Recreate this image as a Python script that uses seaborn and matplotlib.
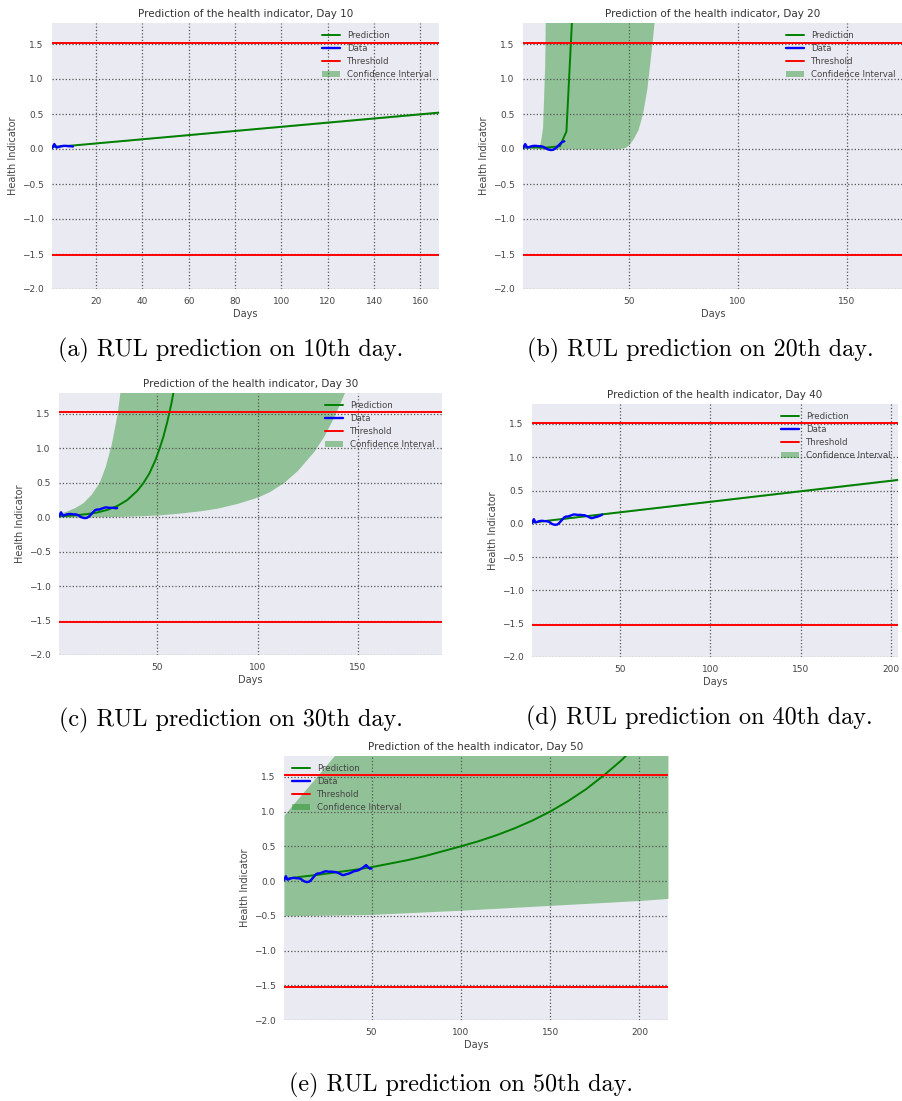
import matplotlib
matplotlib.use("Agg")
import matplotlib.pyplot as plt
import seaborn as sns
from matplotlib.lines import Line2D
from matplotlib.patches import Patch

# Observed health indicator, one value per day (days 1..50)
data_days = list(range(1, 51))
data_values = [0.01, 0.07, 0.02, 0.03, 0.04, 0.045, 0.045, 0.04, 0.04, 0.035,
               0.02, 0.0, -0.01, -0.015, -0.01, 0.01, 0.04, 0.07, 0.10, 0.11,
               0.11, 0.12, 0.13, 0.14, 0.14, 0.135, 0.135, 0.135, 0.13, 0.13,
               0.12, 0.11, 0.095, 0.085, 0.09, 0.10, 0.105, 0.115, 0.125, 0.14,
               0.145, 0.15, 0.16, 0.175, 0.19, 0.21, 0.23, 0.20, 0.18, 0.18]

threshold = 1.52

# Day 10 forecast
pred10_days = [1, 10, 168]
pred10_vals = [0.03, 0.05, 0.52]
ci10_days = [1, 10, 168]
ci10_low = [0.025, 0.045, 0.51]
ci10_high = [0.035, 0.055, 0.53]

# Day 20 forecast
pred20_days = [1, 6, 12, 18, 21, 24]
pred20_vals = [0.02, 0.02, 0.02, 0.04, 0.25, 2.1]
ci20_days = [8, 9, 10, 11, 12, 20, 30, 40, 45, 48, 50, 52, 54, 56, 58, 60, 62]
ci20_low = [0.0, 0.0, 0.0, 0.0, 0.0, 0.0, 0.0, 0.0, 0.005, 0.02, 0.07, 0.16,
            0.28, 0.5, 0.85, 1.4, 2.0]
ci20_high = [0.0, 0.1, 0.3, 1.2, 4.0, 10, 10, 10, 10, 10, 10, 10, 10, 10, 10, 10, 10]

# Day 30 forecast
pred30_days = [1, 5, 10, 15, 20, 25, 30, 35, 40, 43, 46, 49, 51, 53, 55, 57, 59, 61]
pred30_vals = [0.013, 0.018, 0.028, 0.044, 0.067, 0.104, 0.16, 0.247, 0.38, 0.49,
               0.63, 0.82, 0.98, 1.16, 1.38, 1.64, 1.95, 2.3]
ci30_days = [1, 5, 9, 13, 17, 21, 24, 27, 30, 32, 35, 50, 60, 71, 80, 90, 100,
             106, 113, 120, 128, 133, 138, 143, 150]
ci30_low = [0.0, 0.0, 0.0, 0.0, 0.003, 0.005, 0.007, 0.008, 0.01, 0.011, 0.013,
            0.03, 0.055, 0.09, 0.13, 0.2, 0.29, 0.37, 0.5, 0.68, 0.95, 1.17,
            1.45, 1.78, 2.3]
ci30_high = [0.05, 0.09, 0.14, 0.21, 0.33, 0.5, 0.73, 1.05, 1.5, 1.95, 2.8, 10,
             10, 10, 10, 10, 10, 10, 10, 10, 10, 10, 10, 10, 10]

# Day 40 forecast
pred40_days = [1, 204]
pred40_vals = [0.02, 0.66]
ci40_days = [1, 204]
ci40_low = [0.015, 0.65]
ci40_high = [0.025, 0.67]

# Day 50 forecast
pred50_days = [1, 10, 20, 30, 40, 50, 60, 70, 80, 90, 100, 110, 120, 130, 140,
               150, 160, 170, 180, 190, 200, 216]
pred50_vals = [0.03, 0.06, 0.09, 0.125, 0.16, 0.20, 0.25, 0.30, 0.36, 0.43, 0.50,
               0.574, 0.66, 0.758, 0.87, 1.0, 1.15, 1.32, 1.52, 1.74, 2.0, 2.5]
ci50_days = [1, 30, 50, 100, 150, 200, 216]
ci50_low = [-0.50, -0.49, -0.48, -0.42, -0.35, -0.28, -0.25]
ci50_high = [0.95, 1.83, 2.5, 4.0, 5.5, 7.0, 7.5]

panels = [
    dict(day=10, pred=(pred10_days, pred10_vals), ci=(ci10_days, ci10_low, ci10_high),
         xlim=(1, 168), xticks=[20, 40, 60, 80, 100, 120, 140, 160],
         rect=(52, 23, 439, 289), loc="upper right",
         caption="(a) RUL prediction on 10th day.", cap_xy=(231, 350)),
    dict(day=20, pred=(pred20_days, pred20_vals), ci=(ci20_days, ci20_low, ci20_high),
         xlim=(1, 176), xticks=[50, 100, 150],
         rect=(523, 23, 903, 289), loc="upper right",
         caption="(b) RUL prediction on 20th day.", cap_xy=(700, 350)),
    dict(day=30, pred=(pred30_days, pred30_vals), ci=(ci30_days, ci30_low, ci30_high),
         xlim=(1, 192), xticks=[50, 100, 150],
         rect=(59, 393, 442, 655), loc="upper right",
         caption="(c) RUL prediction on 30th day.", cap_xy=(231, 720)),
    dict(day=40, pred=(pred40_days, pred40_vals), ci=(ci40_days, ci40_low, ci40_high),
         xlim=(1, 204), xticks=[50, 100, 150, 200],
         rect=(532, 404, 898, 657), loc="upper right",
         caption="(d) RUL prediction on 40th day.", cap_xy=(699, 718)),
    dict(day=50, pred=(pred50_days, pred50_vals), ci=(ci50_days, ci50_low, ci50_high),
         xlim=(1, 216), xticks=[50, 100, 150, 200],
         rect=(284, 756, 668, 1020), loc="upper left",
         caption="(e) RUL prediction on 50th day.", cap_xy=(461, 1085)),
]

sns.set_theme(style="darkgrid")
plt.rcParams["font.family"] = ["DejaVu Sans"]

W, H = 903, 1101
fig = plt.figure(figsize=(W / 100, H / 100), dpi=100)
fig.patch.set_facecolor("white")

GREEN, BLUE, RED = "#008000", "#0000ff", "#ff0000"
CI_ALPHA = 0.38
TXT = "#444444"

for p in panels:
    l, t, r, b = p["rect"]
    ax = fig.add_axes([l / W, 1 - b / H, (r - l) / W, (b - t) / H])
    ax.set_facecolor("#eaeaf2")
    day = p["day"]

    cx, clo, chi = p["ci"]
    ax.fill_between(cx, clo, chi, color=GREEN, alpha=CI_ALPHA, linewidth=0, zorder=1)

    px, pv = p["pred"]
    sns.lineplot(x=px, y=pv, ax=ax, color=GREEN, linewidth=1.4, sort=False,
                 estimator=None, zorder=3)
    sns.lineplot(x=data_days[:day], y=data_values[:day], ax=ax, color=BLUE,
                 linewidth=1.7, sort=False, estimator=None, zorder=4)
    ax.axhline(threshold, color=RED, linewidth=1.4, zorder=3)
    ax.axhline(-threshold, color=RED, linewidth=1.4, zorder=3)

    ax.set_xlim(*p["xlim"])
    ax.set_ylim(-2.0, 1.8)
    ax.set_xticks(p["xticks"])
    ax.set_yticks([-2.0, -1.5, -1.0, -0.5, 0.0, 0.5, 1.0, 1.5])
    ax.set_yticklabels(["\u22122.0", "\u22121.5", "\u22121.0", "\u22120.5",
                        "0.0", "0.5", "1.0", "1.5"])
    ax.set_axisbelow(False)
    ax.grid(True, color="#555555", linestyle=":", linewidth=0.9, zorder=2)
    for s in ax.spines.values():
        s.set_visible(False)
    ax.tick_params(axis="both", labelsize=6.5, colors=TXT, length=0, pad=6)

    ax.set_title(f"Prediction of the health indicator, Day {day}",
                 fontsize=7.5, color="#333333", pad=4)
    ax.set_xlabel("Days", fontsize=7, color=TXT, labelpad=2)
    ax.set_ylabel("Health Indicator", fontsize=7, color=TXT, labelpad=3)

    handles = [Line2D([], [], color=GREEN, linewidth=1.4),
               Line2D([], [], color=BLUE, linewidth=1.7),
               Line2D([], [], color=RED, linewidth=1.4),
               Patch(facecolor=GREEN, alpha=CI_ALPHA, linewidth=0)]
    leg = ax.legend(handles, ["Prediction", "Data", "Threshold", "Confidence Interval"],
                    loc=p["loc"], frameon=False, fontsize=6.2, labelspacing=0.47,
                    handlelength=2.1, handletextpad=0.8, borderaxespad=0.5)
    for txt in leg.get_texts():
        txt.set_color(TXT)

    cx_, cy_ = p["cap_xy"]
    fig.text(cx_ / W, 1 - cy_ / H, p["caption"], family="cmr10", fontsize=17.4,
             ha="center", va="center", color="black")

fig.savefig("out.png", dpi=100)
